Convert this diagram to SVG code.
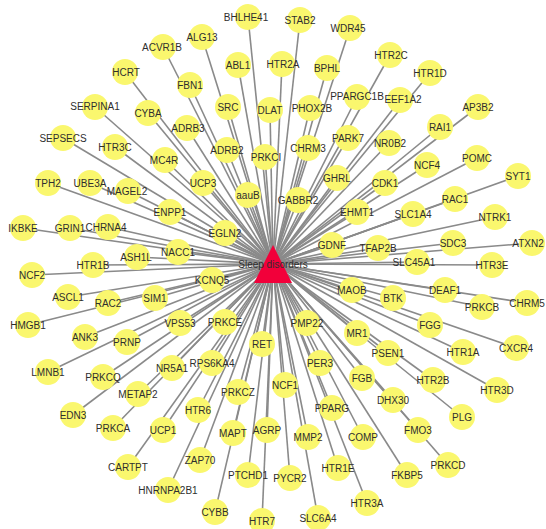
<svg xmlns="http://www.w3.org/2000/svg" width="546" height="529" viewBox="0 0 546 529">
<style>
.e line{stroke:#8a8a8a;stroke-width:1.6}
.n circle{fill:#FAF76E}
text{font-family:"Liberation Sans",Arial,sans-serif;font-size:10px;fill:#2e2e2e;text-anchor:middle}
</style>
<rect width="546" height="529" fill="#fff"/>
<g id="edges" class="e">
<line x1="273" y1="264" x2="248" y2="17"/><line x1="273" y1="264" x2="300" y2="20"/><line x1="273" y1="264" x2="350" y2="28"/><line x1="273" y1="264" x2="202" y2="37"/><line x1="273" y1="264" x2="163" y2="47"/><line x1="273" y1="264" x2="282" y2="64"/><line x1="273" y1="264" x2="327" y2="68"/><line x1="273" y1="264" x2="390" y2="55"/><line x1="273" y1="264" x2="238" y2="65"/><line x1="273" y1="264" x2="125" y2="72"/><line x1="273" y1="264" x2="430" y2="73"/><line x1="273" y1="264" x2="190" y2="85"/><line x1="273" y1="264" x2="357" y2="97"/><line x1="273" y1="264" x2="400" y2="100"/><line x1="273" y1="264" x2="95" y2="107"/><line x1="273" y1="264" x2="148" y2="113"/><line x1="273" y1="264" x2="228" y2="107"/><line x1="273" y1="264" x2="270" y2="110"/><line x1="273" y1="264" x2="310" y2="108"/><line x1="273" y1="264" x2="478" y2="107"/><line x1="273" y1="264" x2="440" y2="127"/><line x1="273" y1="264" x2="187" y2="128"/><line x1="273" y1="264" x2="115" y2="147"/><line x1="273" y1="264" x2="63" y2="138"/><line x1="273" y1="264" x2="165" y2="160"/><line x1="273" y1="264" x2="227" y2="150"/><line x1="273" y1="264" x2="265" y2="157"/><line x1="273" y1="264" x2="308" y2="148"/><line x1="273" y1="264" x2="348" y2="138"/><line x1="273" y1="264" x2="389" y2="143"/><line x1="273" y1="264" x2="427" y2="165"/><line x1="273" y1="264" x2="477" y2="158"/><line x1="273" y1="264" x2="518" y2="176"/><line x1="273" y1="264" x2="48" y2="183"/><line x1="273" y1="264" x2="90" y2="183"/><line x1="273" y1="264" x2="128" y2="191"/><line x1="273" y1="264" x2="203" y2="183"/><line x1="273" y1="264" x2="248" y2="195"/><line x1="273" y1="264" x2="337" y2="178"/><line x1="273" y1="264" x2="385" y2="183"/><line x1="273" y1="264" x2="298" y2="200"/><line x1="273" y1="264" x2="357" y2="212"/><line x1="273" y1="264" x2="413" y2="214"/><line x1="273" y1="264" x2="455" y2="199"/><line x1="273" y1="264" x2="495" y2="217"/><line x1="273" y1="264" x2="170" y2="212"/><line x1="273" y1="264" x2="225" y2="233"/><line x1="273" y1="264" x2="23" y2="228"/><line x1="273" y1="264" x2="70" y2="228"/><line x1="273" y1="264" x2="108" y2="227"/><line x1="273" y1="264" x2="137" y2="257"/><line x1="273" y1="264" x2="178" y2="252"/><line x1="273" y1="264" x2="332" y2="245"/><line x1="273" y1="264" x2="378" y2="248"/><line x1="273" y1="264" x2="453" y2="243"/><line x1="273" y1="264" x2="532" y2="243"/><line x1="273" y1="264" x2="417" y2="262"/><line x1="273" y1="264" x2="492" y2="265"/><line x1="273" y1="264" x2="93" y2="265"/><line x1="273" y1="264" x2="32" y2="275"/><line x1="273" y1="264" x2="212" y2="280"/><line x1="273" y1="264" x2="68" y2="297"/><line x1="273" y1="264" x2="108" y2="303"/><line x1="273" y1="264" x2="155" y2="298"/><line x1="273" y1="264" x2="352" y2="290"/><line x1="273" y1="264" x2="393" y2="298"/><line x1="273" y1="264" x2="445" y2="290"/><line x1="273" y1="264" x2="482" y2="307"/><line x1="273" y1="264" x2="527" y2="303"/><line x1="273" y1="264" x2="28" y2="325"/><line x1="273" y1="264" x2="85" y2="337"/><line x1="273" y1="264" x2="127" y2="342"/><line x1="273" y1="264" x2="180" y2="323"/><line x1="273" y1="264" x2="225" y2="322"/><line x1="273" y1="264" x2="307" y2="323"/><line x1="273" y1="264" x2="357" y2="333"/><line x1="273" y1="264" x2="430" y2="325"/><line x1="273" y1="264" x2="262" y2="344"/><line x1="273" y1="264" x2="516" y2="348"/><line x1="273" y1="264" x2="463" y2="352"/><line x1="273" y1="264" x2="388" y2="353"/><line x1="273" y1="264" x2="48" y2="372"/><line x1="273" y1="264" x2="103" y2="377"/><line x1="273" y1="264" x2="138" y2="394"/><line x1="273" y1="264" x2="172" y2="368"/><line x1="273" y1="264" x2="212" y2="363"/><line x1="273" y1="264" x2="238" y2="392"/><line x1="273" y1="264" x2="285" y2="385"/><line x1="273" y1="264" x2="320" y2="363"/><line x1="273" y1="264" x2="362" y2="378"/><line x1="273" y1="264" x2="433" y2="380"/><line x1="273" y1="264" x2="497" y2="390"/><line x1="273" y1="264" x2="393" y2="400"/><line x1="273" y1="264" x2="198" y2="410"/><line x1="273" y1="264" x2="332" y2="408"/><line x1="273" y1="264" x2="462" y2="417"/><line x1="273" y1="264" x2="73" y2="415"/><line x1="273" y1="264" x2="113" y2="428"/><line x1="273" y1="264" x2="163" y2="430"/><line x1="273" y1="264" x2="233" y2="433"/><line x1="273" y1="264" x2="267" y2="430"/><line x1="273" y1="264" x2="308" y2="437"/><line x1="273" y1="264" x2="363" y2="437"/><line x1="273" y1="264" x2="418" y2="430"/><line x1="273" y1="264" x2="200" y2="460"/><line x1="273" y1="264" x2="128" y2="467"/><line x1="273" y1="264" x2="248" y2="475"/><line x1="273" y1="264" x2="290" y2="478"/><line x1="273" y1="264" x2="338" y2="468"/><line x1="273" y1="264" x2="407" y2="475"/><line x1="273" y1="264" x2="448" y2="465"/><line x1="273" y1="264" x2="168" y2="490"/><line x1="273" y1="264" x2="215" y2="512"/><line x1="273" y1="264" x2="367" y2="503"/><line x1="273" y1="264" x2="318" y2="518"/><line x1="273" y1="264" x2="262" y2="521"/>
</g>
<g class="n">
<g id="BHLHE41"><circle cx="248" cy="17" r="13"/><text x="246" y="21">BHLHE41</text></g>
<g id="STAB2"><circle cx="300" cy="20" r="13"/><text x="300" y="24">STAB2</text></g>
<g id="WDR45"><circle cx="350" cy="28" r="13"/><text x="348" y="32">WDR45</text></g>
<g id="ALG13"><circle cx="202" cy="37" r="13"/><text x="202" y="41">ALG13</text></g>
<g id="ACVR1B"><circle cx="163" cy="47" r="13"/><text x="162" y="51">ACVR1B</text></g>
<g id="HTR2A"><circle cx="282" cy="64" r="13"/><text x="283" y="68">HTR2A</text></g>
<g id="BPHL"><circle cx="327" cy="68" r="13"/><text x="327" y="72">BPHL</text></g>
<g id="HTR2C"><circle cx="390" cy="55" r="13"/><text x="391" y="59">HTR2C</text></g>
<g id="ABL1"><circle cx="238" cy="65" r="13"/><text x="238" y="69">ABL1</text></g>
<g id="HCRT"><circle cx="125" cy="72" r="13"/><text x="126" y="76">HCRT</text></g>
<g id="HTR1D"><circle cx="430" cy="73" r="13"/><text x="430" y="77">HTR1D</text></g>
<g id="FBN1"><circle cx="190" cy="85" r="13"/><text x="190" y="89">FBN1</text></g>
<g id="PPARGC1B"><circle cx="357" cy="97" r="13"/><text x="357" y="100">PPARGC1B</text></g>
<g id="EEF1A2"><circle cx="400" cy="100" r="13"/><text x="403" y="103">EEF1A2</text></g>
<g id="SERPINA1"><circle cx="95" cy="107" r="13"/><text x="95" y="110">SERPINA1</text></g>
<g id="CYBA"><circle cx="148" cy="113" r="13"/><text x="148" y="117">CYBA</text></g>
<g id="SRC"><circle cx="228" cy="107" r="13"/><text x="228" y="111">SRC</text></g>
<g id="DLAT"><circle cx="270" cy="110" r="13"/><text x="270" y="114">DLAT</text></g>
<g id="PHOX2B"><circle cx="310" cy="108" r="13"/><text x="312" y="112">PHOX2B</text></g>
<g id="AP3B2"><circle cx="478" cy="107" r="13"/><text x="478" y="111">AP3B2</text></g>
<g id="RAI1"><circle cx="440" cy="127" r="13"/><text x="440" y="131">RAI1</text></g>
<g id="ADRB3"><circle cx="187" cy="128" r="13"/><text x="188" y="132">ADRB3</text></g>
<g id="HTR3C"><circle cx="115" cy="147" r="13"/><text x="115" y="151">HTR3C</text></g>
<g id="SEPSECS"><circle cx="63" cy="138" r="13"/><text x="63" y="142">SEPSECS</text></g>
<g id="MC4R"><circle cx="165" cy="160" r="13"/><text x="164" y="164">MC4R</text></g>
<g id="ADRB2"><circle cx="227" cy="150" r="13"/><text x="227" y="154">ADRB2</text></g>
<g id="PRKCI"><circle cx="265" cy="157" r="13"/><text x="266" y="161">PRKCI</text></g>
<g id="CHRM3"><circle cx="308" cy="148" r="13"/><text x="308" y="152">CHRM3</text></g>
<g id="PARK7"><circle cx="348" cy="138" r="13"/><text x="348" y="142">PARK7</text></g>
<g id="NR0B2"><circle cx="389" cy="143" r="13"/><text x="390" y="147">NR0B2</text></g>
<g id="NCF4"><circle cx="427" cy="165" r="13"/><text x="427" y="169">NCF4</text></g>
<g id="POMC"><circle cx="477" cy="158" r="13"/><text x="477" y="162">POMC</text></g>
<g id="SYT1"><circle cx="518" cy="176" r="13"/><text x="518" y="180">SYT1</text></g>
<g id="TPH2"><circle cx="48" cy="183" r="13"/><text x="48" y="187">TPH2</text></g>
<g id="UBE3A"><circle cx="90" cy="183" r="13"/><text x="90" y="187">UBE3A</text></g>
<g id="MAGEL2"><circle cx="128" cy="191" r="13"/><text x="127" y="195">MAGEL2</text></g>
<g id="UCP3"><circle cx="203" cy="183" r="13"/><text x="203" y="187">UCP3</text></g>
<g id="aauB"><circle cx="248" cy="195" r="13"/><text x="248" y="199">aauB</text></g>
<g id="GHRL"><circle cx="337" cy="178" r="13"/><text x="337" y="182">GHRL</text></g>
<g id="CDK1"><circle cx="385" cy="183" r="13"/><text x="385" y="187">CDK1</text></g>
<g id="GABBR2"><circle cx="298" cy="200" r="13"/><text x="298" y="204">GABBR2</text></g>
<g id="EHMT1"><circle cx="357" cy="212" r="13"/><text x="357" y="216">EHMT1</text></g>
<g id="SLC1A4"><circle cx="413" cy="214" r="13"/><text x="413" y="218">SLC1A4</text></g>
<g id="RAC1"><circle cx="455" cy="199" r="13"/><text x="455" y="203">RAC1</text></g>
<g id="NTRK1"><circle cx="495" cy="217" r="13"/><text x="495" y="221">NTRK1</text></g>
<g id="ENPP1"><circle cx="170" cy="212" r="13"/><text x="170" y="216">ENPP1</text></g>
<g id="EGLN2"><circle cx="225" cy="233" r="13"/><text x="225" y="237">EGLN2</text></g>
<g id="IKBKE"><circle cx="23" cy="228" r="13"/><text x="23" y="232">IKBKE</text></g>
<g id="GRIN1"><circle cx="70" cy="228" r="13"/><text x="70" y="232">GRIN1</text></g>
<g id="CHRNA4"><circle cx="108" cy="227" r="13"/><text x="106" y="231">CHRNA4</text></g>
<g id="ASH1L"><circle cx="137" cy="257" r="13"/><text x="136" y="261">ASH1L</text></g>
<g id="NACC1"><circle cx="178" cy="252" r="13"/><text x="178" y="256">NACC1</text></g>
<g id="GDNF"><circle cx="332" cy="245" r="13"/><text x="332" y="249">GDNF</text></g>
<g id="TFAP2B"><circle cx="378" cy="248" r="13"/><text x="378" y="252">TFAP2B</text></g>
<g id="SDC3"><circle cx="453" cy="243" r="13"/><text x="453" y="247">SDC3</text></g>
<g id="ATXN2"><circle cx="532" cy="243" r="13"/><text x="528" y="247">ATXN2</text></g>
<g id="SLC45A1"><circle cx="417" cy="262" r="13"/><text x="414" y="266">SLC45A1</text></g>
<g id="HTR3E"><circle cx="492" cy="265" r="13"/><text x="492" y="269">HTR3E</text></g>
<g id="HTR1B"><circle cx="93" cy="265" r="13"/><text x="93" y="269">HTR1B</text></g>
<g id="NCF2"><circle cx="32" cy="275" r="13"/><text x="32" y="279">NCF2</text></g>
<g id="KCNQ5"><circle cx="212" cy="280" r="13"/><text x="212" y="284">KCNQ5</text></g>
<g id="ASCL1"><circle cx="68" cy="297" r="13"/><text x="68" y="301">ASCL1</text></g>
<g id="RAC2"><circle cx="108" cy="303" r="13"/><text x="108" y="307">RAC2</text></g>
<g id="SIM1"><circle cx="155" cy="298" r="13"/><text x="155" y="302">SIM1</text></g>
<g id="MAOB"><circle cx="352" cy="290" r="13"/><text x="352" y="294">MAOB</text></g>
<g id="BTK"><circle cx="393" cy="298" r="13"/><text x="393" y="302">BTK</text></g>
<g id="DEAF1"><circle cx="445" cy="290" r="13"/><text x="445" y="294">DEAF1</text></g>
<g id="PRKCB"><circle cx="482" cy="307" r="13"/><text x="482" y="311">PRKCB</text></g>
<g id="CHRM5"><circle cx="527" cy="303" r="13"/><text x="527" y="307">CHRM5</text></g>
<g id="HMGB1"><circle cx="28" cy="325" r="13"/><text x="28" y="329">HMGB1</text></g>
<g id="ANK3"><circle cx="85" cy="337" r="13"/><text x="85" y="341">ANK3</text></g>
<g id="PRNP"><circle cx="127" cy="342" r="13"/><text x="127" y="346">PRNP</text></g>
<g id="VPS53"><circle cx="180" cy="323" r="13"/><text x="180" y="327">VPS53</text></g>
<g id="PRKCE"><circle cx="225" cy="322" r="13"/><text x="225" y="326">PRKCE</text></g>
<g id="PMP22"><circle cx="307" cy="323" r="13"/><text x="307" y="327">PMP22</text></g>
<g id="MR1"><circle cx="357" cy="333" r="13"/><text x="357" y="337">MR1</text></g>
<g id="FGG"><circle cx="430" cy="325" r="13"/><text x="430" y="329">FGG</text></g>
<g id="RET"><circle cx="262" cy="344" r="13"/><text x="262" y="348">RET</text></g>
<g id="CXCR4"><circle cx="516" cy="348" r="13"/><text x="516" y="352">CXCR4</text></g>
<g id="HTR1A"><circle cx="463" cy="352" r="13"/><text x="463" y="356">HTR1A</text></g>
<g id="PSEN1"><circle cx="388" cy="353" r="13"/><text x="388" y="357">PSEN1</text></g>
<g id="LMNB1"><circle cx="48" cy="372" r="13"/><text x="48" y="376">LMNB1</text></g>
<g id="PRKCQ"><circle cx="103" cy="377" r="13"/><text x="103" y="381">PRKCQ</text></g>
<g id="METAP2"><circle cx="138" cy="394" r="13"/><text x="138" y="398">METAP2</text></g>
<g id="NR5A1"><circle cx="172" cy="368" r="13"/><text x="172" y="372">NR5A1</text></g>
<g id="RPS6KA4"><circle cx="212" cy="363" r="13"/><text x="212" y="367">RPS6KA4</text></g>
<g id="PRKCZ"><circle cx="238" cy="392" r="13"/><text x="238" y="396">PRKCZ</text></g>
<g id="NCF1"><circle cx="285" cy="385" r="13"/><text x="285" y="389">NCF1</text></g>
<g id="PER3"><circle cx="320" cy="363" r="13"/><text x="320" y="367">PER3</text></g>
<g id="FGB"><circle cx="362" cy="378" r="13"/><text x="362" y="382">FGB</text></g>
<g id="HTR2B"><circle cx="433" cy="380" r="13"/><text x="433" y="384">HTR2B</text></g>
<g id="HTR3D"><circle cx="497" cy="390" r="13"/><text x="497" y="394">HTR3D</text></g>
<g id="DHX30"><circle cx="393" cy="400" r="13"/><text x="393" y="404">DHX30</text></g>
<g id="HTR6"><circle cx="198" cy="410" r="13"/><text x="198" y="414">HTR6</text></g>
<g id="PPARG"><circle cx="332" cy="408" r="13"/><text x="332" y="412">PPARG</text></g>
<g id="PLG"><circle cx="462" cy="417" r="13"/><text x="462" y="421">PLG</text></g>
<g id="EDN3"><circle cx="73" cy="415" r="13"/><text x="73" y="419">EDN3</text></g>
<g id="PRKCA"><circle cx="113" cy="428" r="13"/><text x="113" y="432">PRKCA</text></g>
<g id="UCP1"><circle cx="163" cy="430" r="13"/><text x="163" y="434">UCP1</text></g>
<g id="MAPT"><circle cx="233" cy="433" r="13"/><text x="233" y="437">MAPT</text></g>
<g id="AGRP"><circle cx="267" cy="430" r="13"/><text x="267" y="434">AGRP</text></g>
<g id="MMP2"><circle cx="308" cy="437" r="13"/><text x="308" y="441">MMP2</text></g>
<g id="COMP"><circle cx="363" cy="437" r="13"/><text x="363" y="441">COMP</text></g>
<g id="FMO3"><circle cx="418" cy="430" r="13"/><text x="418" y="434">FMO3</text></g>
<g id="ZAP70"><circle cx="200" cy="460" r="13"/><text x="200" y="464">ZAP70</text></g>
<g id="CARTPT"><circle cx="128" cy="467" r="13"/><text x="128" y="471">CARTPT</text></g>
<g id="PTCHD1"><circle cx="248" cy="475" r="13"/><text x="248" y="479">PTCHD1</text></g>
<g id="PYCR2"><circle cx="290" cy="478" r="13"/><text x="290" y="482">PYCR2</text></g>
<g id="HTR1E"><circle cx="338" cy="468" r="13"/><text x="338" y="472">HTR1E</text></g>
<g id="FKBP5"><circle cx="407" cy="475" r="13"/><text x="407" y="479">FKBP5</text></g>
<g id="PRKCD"><circle cx="448" cy="465" r="13"/><text x="448" y="469">PRKCD</text></g>
<g id="HNRNPA2B1"><circle cx="168" cy="490" r="13"/><text x="168" y="494">HNRNPA2B1</text></g>
<g id="CYBB"><circle cx="215" cy="512" r="13"/><text x="215" y="516">CYBB</text></g>
<g id="HTR3A"><circle cx="367" cy="503" r="13"/><text x="367" y="507">HTR3A</text></g>
<g id="SLC6A4"><circle cx="318" cy="518" r="13"/><text x="318" y="522">SLC6A4</text></g>
<g id="HTR7"><circle cx="262" cy="521" r="13"/><text x="262" y="525">HTR7</text></g>
</g>
<g id="sleep-disorders">
<polygon points="273,245 254,283 292,283" fill="#F2003A"/>
<text x="273" y="268">Sleep disorders</text>
</g>
</svg>
